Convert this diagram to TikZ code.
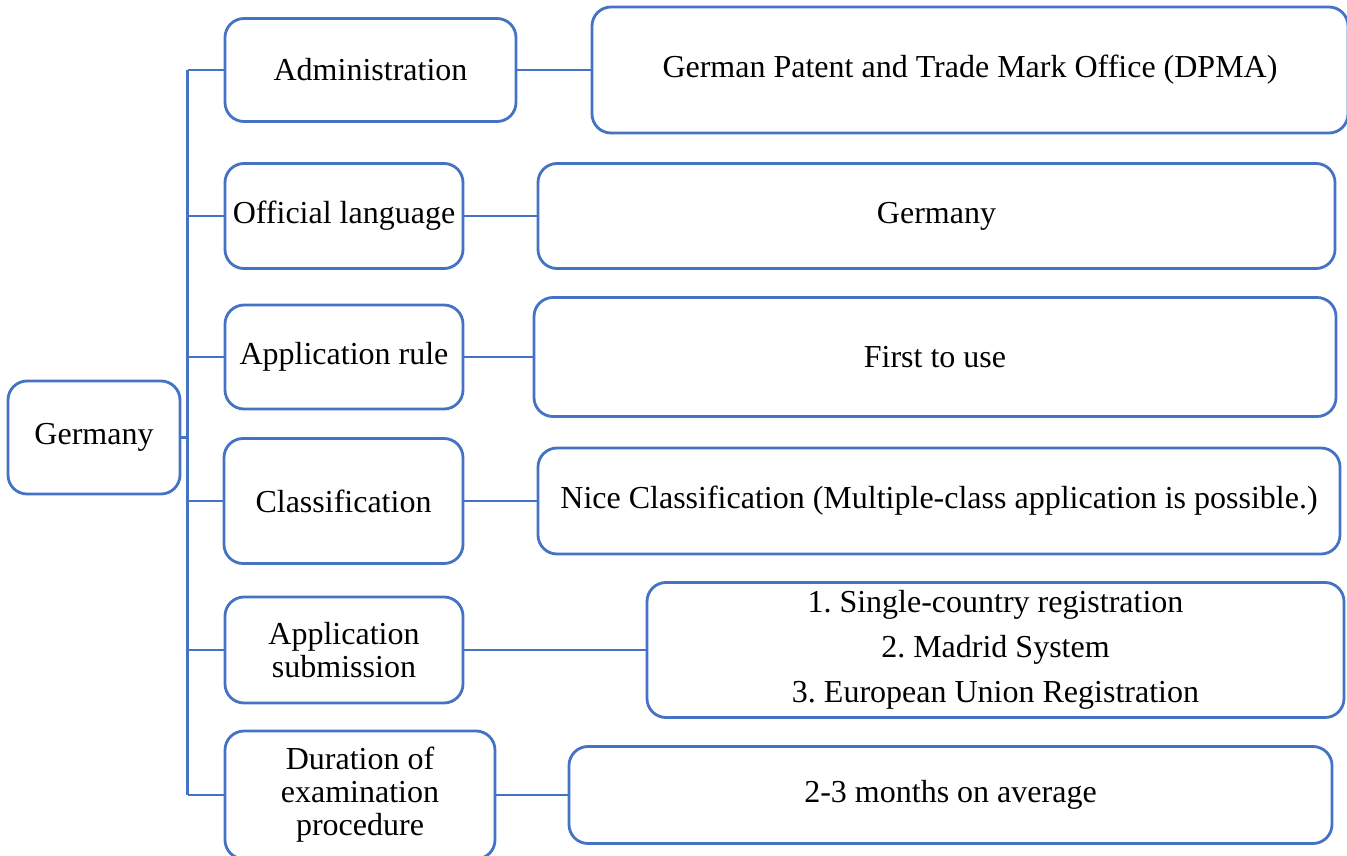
\documentclass[tikz,border=0pt]{standalone}
\usepackage{fontspec}
\setmainfont{Liberation Serif}
\frenchspacing
\definecolor{boxblue}{HTML}{4472C4}
\tikzset{
  box/.style={draw=boxblue, line width=2.8pt, rounded corners=19pt, fill=white,
    inner sep=0pt, align=center, font=\fontsize{32}{33}\selectfont, text=black},
  link/.style={draw=boxblue, line width=2.8pt}
}
\begin{document}
\begin{tikzpicture}[x=1pt,y=-1pt]
\useasboundingbox (0,0) rectangle (1347,856);
% left column
\node[box, minimum width=172pt, minimum height=113pt] (root) at (94,437.5) {Germany};
\node[box, minimum width=291pt, minimum height=103pt] (adm) at (370.5,70) {Administration};
\node[box, minimum width=238pt, minimum height=105pt] (lang) at (344,216) {Official language};
\node[box, minimum width=238pt, minimum height=104pt] (rule) at (344,357) {Application rule};
\node[box, minimum width=239pt, minimum height=125pt] (cls) at (343.5,501) {Classification};
\node[box, minimum width=238pt, minimum height=106pt] (sub) at (344,650) {Application\\submission};
\node[box, minimum width=270pt, minimum height=128pt] (dur) at (360,795) {Duration of\\examination\\procedure};
% right column
\node[box, minimum width=756pt, minimum height=126pt] (dpma) at (970,70) {German Patent and Trade Mark Office (DPMA)};
\node[box, minimum width=797pt, minimum height=105pt] (langv) at (936.5,216) {Germany};
\node[box, minimum width=802pt, minimum height=119pt] (rulev) at (935,357) {First to use};
\node[box, minimum width=802pt, minimum height=106pt] (clsv) at (939,501) {Nice Classification (Multiple-class application is possible.)};
\node[box, minimum width=697pt, minimum height=135pt] (subv) at (995.5,650) {1. Single-country registration\\[12pt]2. Madrid System\\[12pt]3. European Union Registration};
\node[box, minimum width=763pt, minimum height=97pt] (durv) at (950.5,795) {2-3 months on average};
% trunk
\coordinate (ttop) at (187.5,70);
\coordinate (tbot) at (187.5,795);
\draw[link] (ttop) -- (tbot);
\draw[link] (root.east) -- (root.east -| ttop);
\foreach \n in {adm,lang,rule,cls,sub,dur}{
  \draw[link] (\n.west -| ttop) -- (\n.west);
}
\draw[link] (adm.east) -- (dpma.west);
\draw[link] (lang.east) -- (langv.west);
\draw[link] (rule.east) -- (rulev.west);
\draw[link] (cls.east) -- (clsv.west);
\draw[link] (sub.east) -- (subv.west);
\draw[link] (dur.east) -- (durv.west);
\end{tikzpicture}
\end{document}
